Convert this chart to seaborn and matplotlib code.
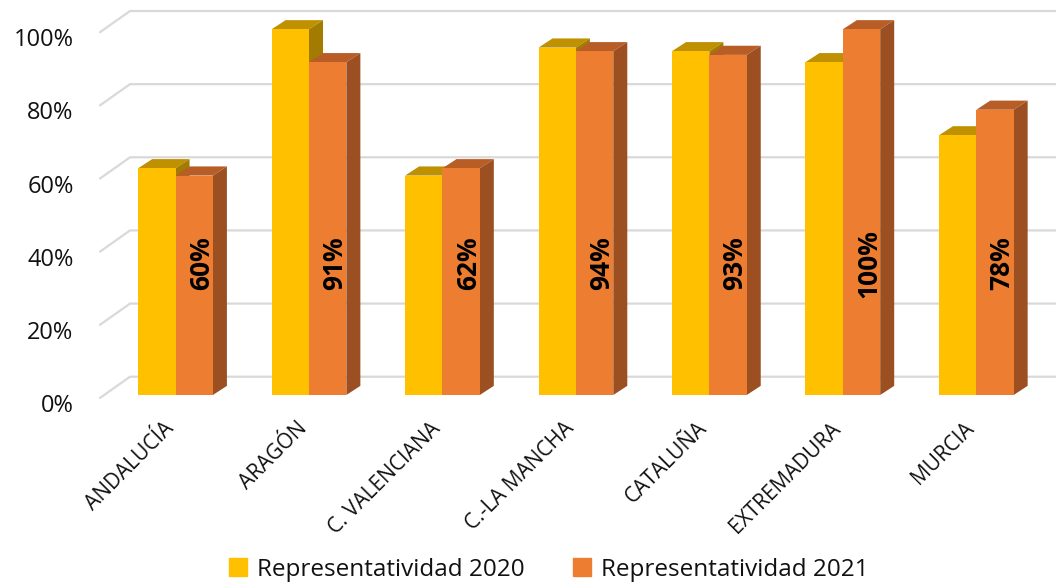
import pandas as pd
import seaborn as sns
import matplotlib.pyplot as plt
from matplotlib.patches import Polygon
from matplotlib.transforms import ScaledTranslation

# Data
regions = ['ANDALUCÍA', 'ARAGÓN', 'C. VALENCIANA', 'C.-LA MANCHA', 'CATALUÑA', 'EXTREMADURA', 'MURCIA']
rep_2020 = [0.62, 1.00, 0.60, 0.95, 0.94, 0.91, 0.71]
rep_2021 = [0.60, 0.91, 0.62, 0.94, 0.93, 1.00, 0.78]
series = ['Representatividad 2020', 'Representatividad 2021']

df = pd.DataFrame({
    'region': regions * 2,
    'serie': [series[0]] * len(regions) + [series[1]] * len(regions),
    'valor': rep_2020 + rep_2021,
})

front = {series[0]: '#FFC000', series[1]: '#ED7D31'}
top_col = {series[0]: '#BF9000', series[1]: '#B95D27'}
side_col = {series[0]: '#A37B00', series[1]: '#9C5021'}

sns.set_style('white')
plt.rcParams['font.family'] = ['Open Sans', 'DejaVu Sans']

fig = plt.figure(figsize=(10.56, 5.85), dpi=100)
ax = fig.add_axes([100 / 1056, (585 - 395) / 585, 943 / 1056, 384 / 585])

sns.barplot(data=df, x='region', y='valor', hue='serie', palette=front,
            width=0.56, saturation=1, legend=False, ax=ax, zorder=3, linewidth=0)

ax.set_xlim(-0.566, 6.5)
ax.set_ylim(0, 1.05)

# fake 3D depth
dx, dy = 0.105, 0.025
for cont, name in zip(ax.containers, series):
    for bar in cont:
        x, w, h = bar.get_x(), bar.get_width(), bar.get_height()
        ax.add_patch(Polygon([(x, h), (x + w, h), (x + w + dx, h + dy), (x + dx, h + dy)],
                             closed=True, color=top_col[name], zorder=2, lw=0))
        ax.add_patch(Polygon([(x + w, 0), (x + w + dx, dy), (x + w + dx, h + dy), (x + w, h)],
                             closed=True, color=side_col[name], zorder=2, lw=0))

# back wall gridlines
gx, gy = 0.225, 0.05
x0 = ax.get_xlim()[0]
for v in [0, 0.2, 0.4, 0.6, 0.8, 1.0]:
    ax.plot([x0, x0 + gx, 6.62], [v - 0.008, v + gy, v + gy], color='#D9D9D9',
            lw=1.6, zorder=0.5, clip_on=False)

# labels on the 2021 bars
for bar, v in zip(ax.containers[1], rep_2021):
    ax.text(bar.get_x() + bar.get_width() / 2 + dx / 2, 0.36, f'{v:.0%}',
            rotation=90, ha='center', va='center', fontsize=19, fontweight='bold',
            color='black', zorder=5)

ax.set_yticks([0, 0.2, 0.4, 0.6, 0.8, 1.0])
ax.set_yticklabels(['0%', '20%', '40%', '60%', '80%', '100%'], fontsize=17, color='#111111')
ax.tick_params(axis='y', length=0, pad=19)
ax.tick_params(axis='x', length=0, pad=22)
ax.set_xticks(range(len(regions)))
ax.set_xticklabels(regions, rotation=45, ha='right', va='center',
                   rotation_mode='anchor', fontsize=15, color='#111111')
for lab in ax.get_yticklabels():
    lab.set_transform(lab.get_transform() + ScaledTranslation(0, -0.08, fig.dpi_scale_trans))
for lab in ax.get_xticklabels():
    lab.set_transform(lab.get_transform() + ScaledTranslation(-0.05, 0, fig.dpi_scale_trans))

ax.set_xlabel('')
ax.set_ylabel('')
sns.despine(ax=ax, left=True, bottom=True)

handles = [plt.Line2D([], [], marker='s', ls='', markersize=13, color=front[s]) for s in series]
fig.legend(handles, series, loc='lower center', bbox_to_anchor=(548 / 1056, -0.032),
           ncol=2, frameon=False, fontsize=17.5, handletextpad=0.35, columnspacing=1.9,
           handlelength=0.9, labelcolor='#111111')

fig.savefig('out.png', dpi=100)
